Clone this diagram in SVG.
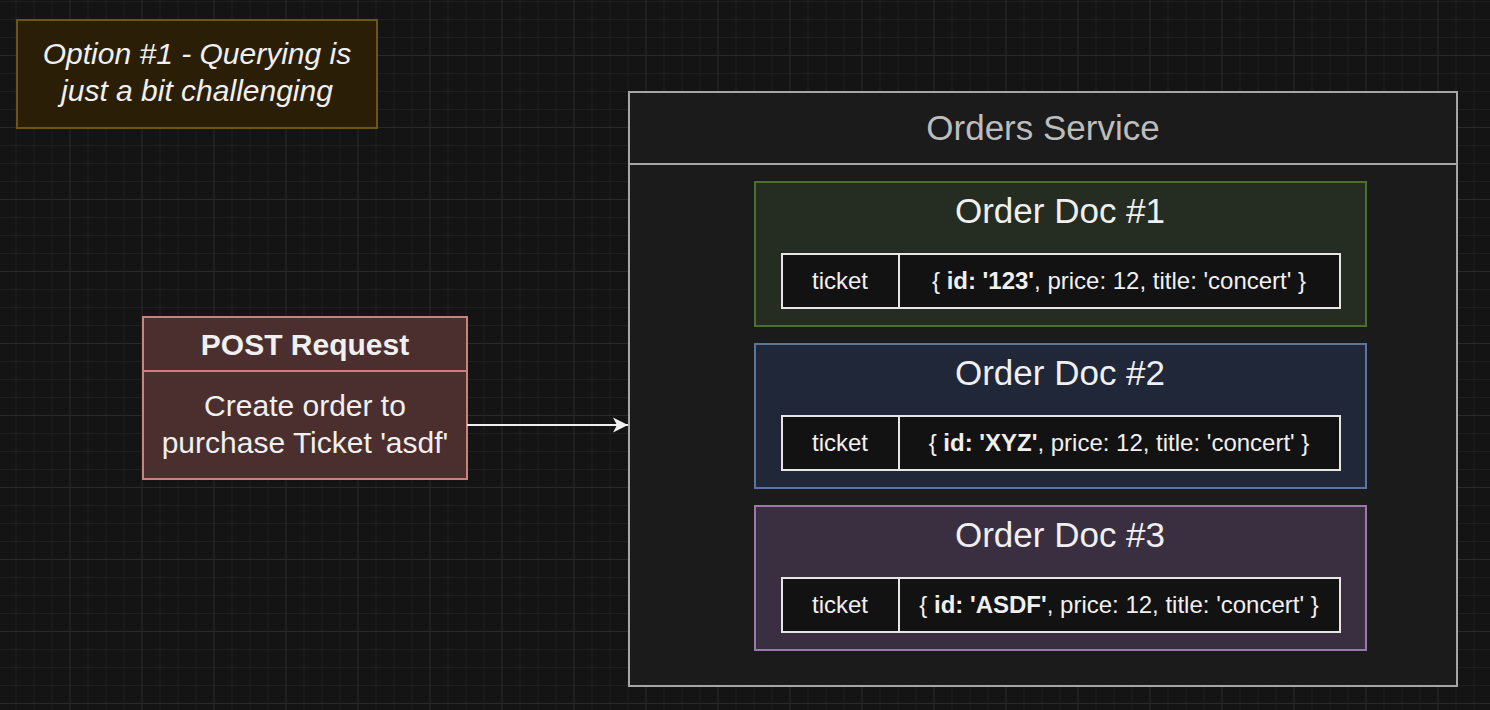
<svg xmlns="http://www.w3.org/2000/svg" width="1490" height="710" viewBox="0 0 1490 710">
<defs>
<pattern id="grid" patternUnits="userSpaceOnUse" x="69.5" y="55" width="72" height="72">
<path d="M18.5 0V72M36.5 0V72M54.5 0V72M0 18.5H72M0 36.5H72M0 54.5H72" stroke="#1e1e1e" stroke-width="1" fill="none"/>
<path d="M0.5 0V72M0 0.5H72" stroke="#2a2a2a" stroke-width="1" fill="none"/>
</pattern>
<marker id="arrow" markerUnits="userSpaceOnUse" viewBox="0 0 16 16" refX="15" refY="8" markerWidth="16" markerHeight="16" orient="auto">
<path d="M15 8L0 0.5L4 8L0 15.5Z" fill="#f0f0f0"/>
</marker>
</defs>
<style>
text{font-family:"Liberation Sans",Arial,sans-serif;fill:#f0f0f0}
.t29{font-size:30px}
.title{font-size:35px}
.cell{font-size:24px}
.tbl{fill:#121212;stroke:#e6e6e6;stroke-width:2}
</style>
<rect width="1490" height="710" fill="#141414"/>
<rect width="1490" height="710" fill="url(#grid)"/>

<g id="note">
<rect x="17" y="20" width="360" height="108" fill="#2a1f06" stroke="#6d5519" stroke-width="2"/>
<text class="t29" x="197" y="64" text-anchor="middle" font-style="italic">Option #1 - Querying is</text>
<text class="t29" x="197" y="101" text-anchor="middle" font-style="italic">just a bit challenging</text>
</g>

<g id="post-request">
<rect x="143" y="317" width="324" height="162" fill="#4b2f2e" stroke="#c9827c" stroke-width="2"/>
<line x1="143" y1="371" x2="467" y2="371" stroke="#c9827c" stroke-width="2"/>
<text class="t29" x="305" y="355" text-anchor="middle" font-weight="bold">POST Request</text>
<text class="t29" x="305" y="416" text-anchor="middle">Create order to</text>
<text class="t29" x="305" y="453" text-anchor="middle">purchase Ticket 'asdf'</text>
</g>

<g id="connectors">
<line x1="467" y1="425" x2="628" y2="425" stroke="#f0f0f0" stroke-width="2" marker-end="url(#arrow)"/>
</g>

<g id="orders-service">
<rect x="629" y="92" width="828" height="594" fill="#1b1b1b" stroke="#a6a6a6" stroke-width="2"/>
<line x1="629" y1="164" x2="1457" y2="164" stroke="#a6a6a6" stroke-width="2"/>
<text class="title" x="1043" y="140" text-anchor="middle" style="fill:#bdbdbd">Orders Service</text>
</g>

<g id="order-doc-1">
<rect x="755" y="182" width="611" height="144" fill="#252d22" stroke="#4c6e2f" stroke-width="2"/>
<text class="title" x="1060" y="223" text-anchor="middle">Order Doc #1</text>
<rect class="tbl" x="782" y="254" width="558" height="54"/>
<line x1="899" y1="254" x2="899" y2="308" stroke="#e6e6e6" stroke-width="2"/>
<text class="cell" x="840" y="289" text-anchor="middle">ticket</text>
<text class="cell" x="1119" y="289" text-anchor="middle">{ <tspan font-weight="bold">id: '123'</tspan>, price: 12, title: 'concert' }</text>
</g>

<g id="order-doc-2">
<rect x="755" y="344" width="611" height="144" fill="#1f2738" stroke="#5a769e" stroke-width="2"/>
<text class="title" x="1060" y="385" text-anchor="middle">Order Doc #2</text>
<rect class="tbl" x="782" y="416" width="558" height="54"/>
<line x1="899" y1="416" x2="899" y2="470" stroke="#e6e6e6" stroke-width="2"/>
<text class="cell" x="840" y="451" text-anchor="middle">ticket</text>
<text class="cell" x="1119" y="451" text-anchor="middle">{ <tspan font-weight="bold">id: 'XYZ'</tspan>, price: 12, title: 'concert' }</text>
</g>

<g id="order-doc-3">
<rect x="755" y="506" width="611" height="144" fill="#392f41" stroke="#9a79a8" stroke-width="2"/>
<text class="title" x="1060" y="547" text-anchor="middle">Order Doc #3</text>
<rect class="tbl" x="782" y="578" width="558" height="54"/>
<line x1="899" y1="578" x2="899" y2="632" stroke="#e6e6e6" stroke-width="2"/>
<text class="cell" x="840" y="613" text-anchor="middle">ticket</text>
<text class="cell" x="1119" y="613" text-anchor="middle">{ <tspan font-weight="bold">id: 'ASDF'</tspan>, price: 12, title: 'concert' }</text>
</g>
</svg>
